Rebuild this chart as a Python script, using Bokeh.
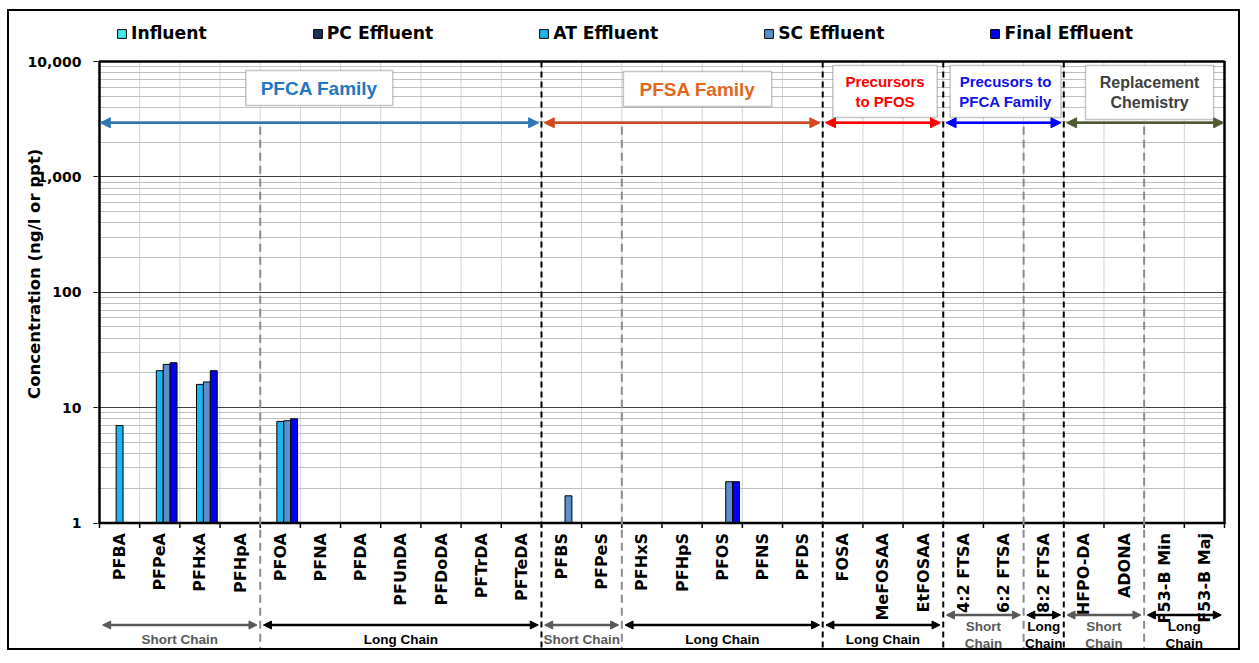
import math
from bokeh.plotting import figure
from bokeh.core.properties import value
from bokeh.models import (Range1d, FixedTicker, NumeralTickFormatter, Legend, LegendItem,
                          Label, Arrow, NormalHead, BoxAnnotation, ColumnDataSource)
from bokeh.embed import file_html
from bokeh.resources import INLINE

# ---------------- data ----------------
categories = ["PFBA", "PFPeA", "PFHxA", "PFHpA", "PFOA", "PFNA", "PFDA", "PFUnDA", "PFDoDA",
              "PFTrDA", "PFTeDA",
              "PFBS", "PFPeS", "PFHxS", "PFHpS", "PFOS", "PFNS", "PFDS",
              "FOSA", "MeFOSAA", "EtFOSAA",
              "4:2 FTSA", "6:2 FTSA", "8:2 FTSA",
              "HFPO-DA", "ADONA",
              "F53-B Min", "F53-B Maj"]
N = None
influent = [N] * 28
pc_effluent = [N] * 28
at_effluent = [7.0, 20.9, 15.9, N, 7.6] + [N] * 23
sc_effluent = [N, 23.7, 16.7, N, 7.7, N, N, N, N, N, N, 1.72, N, N, N, 2.28] + [N] * 12
final_effluent = [N, 24.5, 20.9, N, 8.0, N, N, N, N, N, N, N, N, N, N, 2.28] + [N] * 12

series_names = ["Influent", "PC Effluent", "AT Effluent", "SC Effluent", "Final Effluent"]
series_values = [influent, pc_effluent, at_effluent, sc_effluent, final_effluent]

y_ticks = [1, 10, 100, 1000, 10000]
y_title = "Concentration (ng/l or ppt)"

family_names = ["PFCA Family", "PFSA Family", "Precursors\nto PFOS",
                "Precusors to\nPFCA Family", "Replacement\nChemistry"]
family_bounds = [(0, 11), (11, 18), (18, 21), (21, 24), (24, 28)]
subgroup_bounds = [4, 13, 23, 26]

chain_labels = ["Short Chain", "Long Chain", "Short Chain", "Long Chain", "Long Chain",
                "Short\nChain", "Long\nChain", "Short\nChain", "Long\nChain"]
chain_bounds = [(0, 4), (4, 11), (11, 13), (13, 18), (18, 21),
                (21, 23), (23, 24), (24, 26), (26, 28)]

# ---------------- styles / layout ----------------
series_colors = ["#40E8F0", "#1F3050", "#1CB5F0", "#5B8FCC", "#0000F0"]
family_text_colors = ["#1F78C1", "#E2661E", "#FF0000", "#1010E8", "#404040"]
family_arrow_colors = ["#2E75B6", "#D4471D", "#FF0000", "#0000FF", "#4F5A32"]
family_text_sizes = ["19px", "19px", "15px", "15px", "16px"]
# box extents: (x0, x1) in category units, (top, bottom) in px below the 10,000 line
family_boxes = [(3.64, 7.30, 9, 44), (13.04, 16.73, 10, 45), (18.25, 20.85, 4, 56),
                (21.17, 23.93, 4, 56), (24.54, 27.73, 4, 58)]

W, H = 1243, 650
MB_L, MB_R, MB_T, MB_B = 97, 17, 2, 2
PAD = 2                                   # px between frame side edges and the chart box
TOP_PX = 59                               # px from frame top down to the 10,000 line
FRAME_W = W - MB_L - MB_R
FRAME_H = H - MB_T - MB_B
AXIS_PX = 461.5                           # px from the 10,000 line down to the 1 line
DECADES = 4
DEC = AXIS_PX / DECADES
BAR_W = 0.172
FONT = "DejaVu Sans"
BOX_FONT = "Liberation Sans"
TITLE_SHIFT = 18                          # no-break spaces that lift the axis title


def y_at(px):
    """data value at a pixel offset below the 10,000 line (log axis)"""
    return 10 ** (DECADES - px / DEC)


n = len(categories)
centers = [i + 0.5 for i in range(n)]
bounds = list(range(n + 1))
cat_w = (FRAME_W - 2 * PAD) / n
padx = PAD / cat_w

p = figure(width=W, height=H, x_range=Range1d(-padx, n + padx),
           y_range=Range1d(y_at(FRAME_H - TOP_PX), y_at(-TOP_PX)),
           y_axis_type="log", x_axis_location=None,
           output_backend="svg", toolbar_location=None,
           min_border_left=MB_L, min_border_right=MB_R, min_border_top=MB_T,
           min_border_bottom=MB_B)
p.stylesheets = [":host { position: relative; }",
                 ":host::after { content: ''; position: absolute; left: 7px; top: 9px; "
                 "right: 3px; bottom: 0px; border: 2px solid black; pointer-events: none; }"]
p.outline_line_color = None
p.background_fill_color = "white"
p.border_fill_color = "white"
p.xgrid.visible = False

# y axis
yt = FixedTicker(ticks=y_ticks,
                 minor_ticks=[m * 10 ** d for d in range(DECADES) for m in range(2, 10)])
p.yaxis.ticker = yt
p.ygrid.ticker = yt
p.yaxis.bounds = (1, 10000)
p.yaxis.formatter = NumeralTickFormatter(format="0,0")
p.yaxis.axis_label = "\u00a0" * TITLE_SHIFT + y_title
p.yaxis.axis_label_text_font = FONT
p.yaxis.axis_label_text_font_size = "16.5px"
p.yaxis.axis_label_text_font_style = "bold"
p.yaxis.axis_label_text_color = "black"
p.yaxis.axis_label_standoff = -20
p.yaxis.major_label_text_font = FONT
p.yaxis.major_label_text_font_size = "14px"
p.yaxis.major_label_text_font_style = "bold"
p.yaxis.major_label_text_color = "black"
p.yaxis.major_label_standoff = 12
p.yaxis.major_tick_out = 4
p.yaxis.major_tick_in = 0
p.yaxis.minor_tick_line_color = None
p.yaxis.axis_line_color = None
p.ygrid.grid_line_color = "#404040"
p.ygrid.grid_line_width = 1
p.ygrid.minor_grid_line_color = "#c0c0c0"
p.ygrid.bounds = (0, n)

# vertical light grid lines between categories (inside the chart box only)
inner = bounds[1:-1]
p.segment(x0=inner, x1=inner, y0=[1] * len(inner), y1=[10000] * len(inner),
          line_color="#d3d3d3", line_width=1, level="underlay")

# bars
renderers = []
for k, (name, vals, col) in enumerate(zip(series_names, series_values, series_colors)):
    off = (k - 2) * BAR_W
    src = ColumnDataSource(dict(
        x=[c + off for c in centers],
        top=[float("nan") if v is None else v for v in vals]))
    r = p.vbar(x="x", top="top", bottom=1, width=BAR_W, source=src,
               fill_color=col, line_color="black", line_width=1)
    renderers.append(r)

# chart box (plot area border, x-axis line)
p.quad(left=[0], right=[n], bottom=[1], top=[10000], fill_color=None,
       line_color="black", line_width=2.5)

# x ticks at category boundaries and category labels
p.segment(x0=bounds, x1=bounds, y0=[1] * len(bounds), y1=[y_at(AXIS_PX + 5)] * len(bounds),
          line_color="black", line_width=1.5)
p.text(x=centers, y=[y_at(AXIS_PX + 10)] * n, text=categories, angle=math.pi / 2,
       text_align="right", text_baseline="middle", text_font=value(FONT),
       text_font_size=value("16px"), text_font_style="bold", text_color="black")

# dashed separators
bottom_px = FRAME_H - TOP_PX
fam_lines = [fb[1] for fb in family_bounds[:-1]]
p.segment(x0=fam_lines, x1=fam_lines, y0=[10000] * len(fam_lines),
          y1=[y_at(bottom_px)] * len(fam_lines), line_color="black", line_width=2,
          line_dash="6 4")
arrow_px = 61.3
p.segment(x0=subgroup_bounds, x1=subgroup_bounds, y0=[y_at(arrow_px + 4)] * len(subgroup_bounds),
          y1=[y_at(bottom_px)] * len(subgroup_bounds), line_color="#8C8C8C", line_width=2,
          line_dash="8 5")

# legend (inside the frame's top strip, above the chart box)
legend = Legend(items=[LegendItem(label=nm, renderers=[r]) for nm, r in zip(series_names, renderers)],
                orientation="horizontal", location=(19, FRAME_H - 41), spacing=105,
                padding=0, margin=0, border_line_color=None, background_fill_alpha=0,
                glyph_width=11, glyph_height=11, label_standoff=4, label_height=20,
                label_text_font=FONT, label_text_font_size="17.2px",
                label_text_font_style="bold", label_text_color="black")
p.add_layout(legend)

# family boxes, labels and arrows
for (x0, x1), name, tc, ac, ts, (bx0, bx1, bt, bb) in zip(
        family_bounds, family_names, family_text_colors, family_arrow_colors,
        family_text_sizes, family_boxes):
    p.add_layout(BoxAnnotation(left=bx0, right=bx1, top=y_at(bt), bottom=y_at(bb),
                               fill_color="white", fill_alpha=1, line_color="#404040",
                               line_width=1.5))
    p.add_layout(Label(x=(bx0 + bx1) / 2, y=y_at((bt + bb) / 2), text=name,
                       text_align="center", text_baseline="middle", text_color=tc,
                       text_font=BOX_FONT, text_font_size=ts, text_font_style="bold",
                       text_line_height=1.15))
    p.add_layout(Arrow(x_start=x0 + 0.07 if x0 > 0 else x0 + 0.02, y_start=y_at(arrow_px),
                       x_end=x1 - 0.07 if x1 < n else x1 - 0.02, y_end=y_at(arrow_px),
                       start=NormalHead(size=10, fill_color=ac, line_color=ac),
                       end=NormalHead(size=10, fill_color=ac, line_color=ac),
                       line_color=ac, line_width=2.5))

# chain arrows + labels below the axis
for (x0, x1), lab in zip(chain_bounds, chain_labels):
    col = "#595959" if lab.startswith("Short") else "black"
    two = "\n" in lab
    a_px = AXIS_PX + (92 if two else 102)
    t_px = AXIS_PX + (112 if two else 116)
    p.add_layout(Arrow(x_start=x0 + 0.08, y_start=y_at(a_px), x_end=x1 - 0.08, y_end=y_at(a_px),
                       start=NormalHead(size=8, fill_color=col, line_color=col),
                       end=NormalHead(size=8, fill_color=col, line_color=col),
                       line_color=col, line_width=2.5))
    p.add_layout(Label(x=(x0 + x1) / 2, y=y_at(t_px), text=lab, text_align="center",
                       text_baseline="middle", text_color=col, text_font=BOX_FONT,
                       text_font_size="13.5px", text_font_style="bold",
                       text_line_height=1.1))

open("out.html", "w").write(file_html(p, INLINE))
